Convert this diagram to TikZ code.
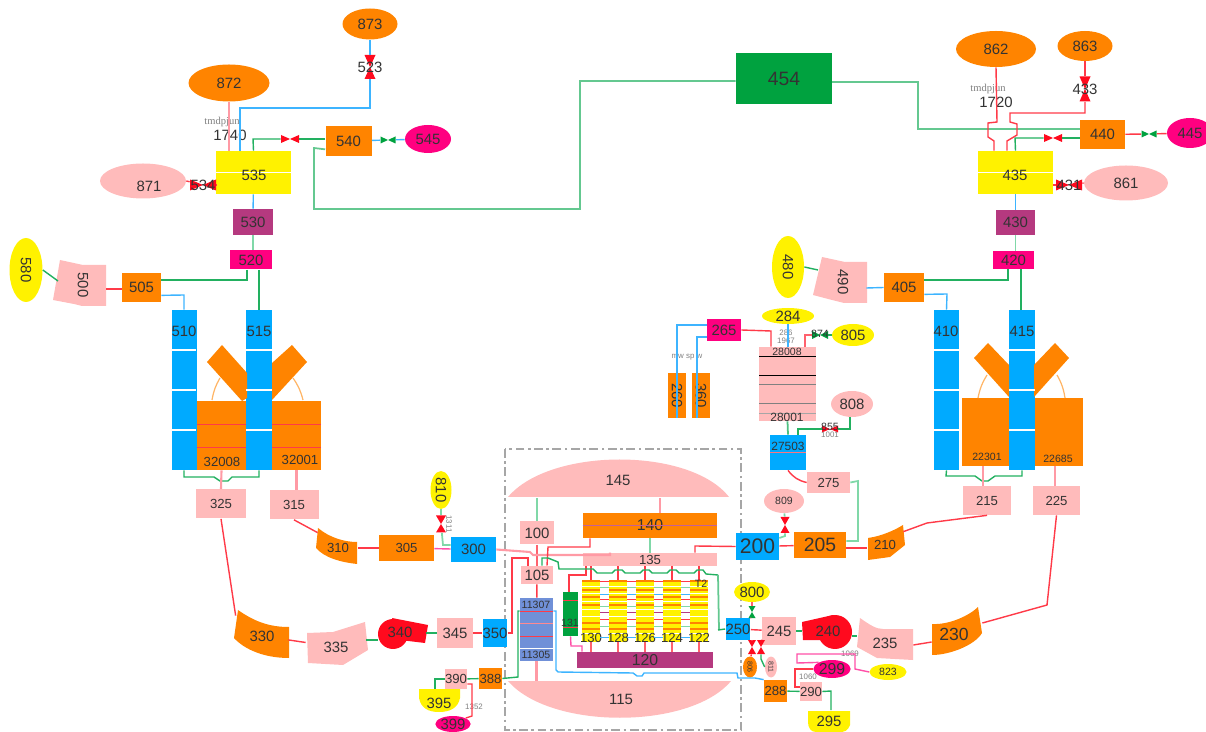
\documentclass[tikz,border=0pt]{standalone}
\usepackage{xcolor}
\usepackage{fontspec}
\setmainfont{Liberation Sans}
\newfontfamily\smallserif{Liberation Serif}
\usetikzlibrary{shapes.geometric,calc}

\definecolor{orng}{HTML}{FF8400}
\definecolor{pinkf}{HTML}{FFBBBB}
\definecolor{bluef}{HTML}{00AAFF}
\definecolor{purp}{HTML}{B5397F}
\definecolor{magf}{HTML}{FF0080}
\definecolor{grnf}{HTML}{00A23F}
\definecolor{redf}{HTML}{FF0A1E}
\definecolor{peri}{HTML}{7090D8}
\definecolor{txtc}{HTML}{333333}
\definecolor{rdl}{HTML}{FF3A48}
\definecolor{grl}{HTML}{22B060}
\definecolor{lgr}{HTML}{80D8A8}
\definecolor{bll}{HTML}{3DB4FF}
\definecolor{pkl}{HTML}{FF9AA5}
\definecolor{mgl}{HTML}{FF50A8}

\begin{document}
\begin{tikzpicture}[
x=0.02cm,y=-0.02cm,
every node/.style={font=\fontsize{8.5}{10}\selectfont,text=txtc},
box/.style 2 args={rectangle,inner sep=0pt,minimum width=#1*0.02cm,minimum height=#2*0.02cm},
oval/.style 2 args={ellipse,inner sep=0pt,minimum width=#1*0.02cm,minimum height=#2*0.02cm},
valveh/.style n args={3}{box={#2}{#3},path picture={\fill[#1] (path picture bounding box.north west) -- (path picture bounding box.south east) -- (path picture bounding box.north east) -- (path picture bounding box.south west) -- cycle;}},
valvev/.style n args={3}{box={#2}{#3},path picture={\fill[#1] (path picture bounding box.north west) -- (path picture bounding box.north east) -- (path picture bounding box.south west) -- (path picture bounding box.south east) -- cycle;}},
red pipe/.style={draw=rdl,line width=0.8pt},
green pipe/.style={draw=grl,line width=0.8pt},
pale pipe/.style={draw=lgr,line width=1pt},
blue pipe/.style={draw=bll,line width=0.8pt},
pink pipe/.style={draw=pkl,line width=1.2pt},
mag pipe/.style={draw=mgl,line width=0.8pt},
tag/.style={font=\fontsize{4.5}{5}\selectfont,text=gray},
midt/.style={font=\fontsize{7.5}{8}\selectfont},
lowt/.style={font=\fontsize{6}{7}\selectfont}
]
\clip (0,0) rectangle (1206,732);

% Vessel boundary
\draw[gray!70,line width=1.2pt,dash pattern=on 5pt off 2pt on 1.5pt off 2pt] (505,449) rectangle (741,730);

% Left train, top
\node[oval={55}{31},fill=orng] (n873) at (370,24) {873};
\node[valvev={redf}{11}{24},label={center:523}] (v523) at (370,67) {};
\node[oval={81}{37},fill=orng] (n872) at (229,83) {872};
\node[tag,font=\fontsize{6}{7}\smallserif\selectfont] (tag1) at (222,122) {tmdpjun};
\node (t1740) at (230,135) {1740};
\node[box={75}{43},fill=yellow] (n535) at (253.5,172.5) {};
\draw[white,line width=0.6pt] (n535.west) -- (n535.east);
\node (t535) at (254,175) {535};
\node[oval={86}{35},fill=pinkf] (n871) at (143,181) {};
\node (t871) at (149,186) {871};
\node[valveh={redf}{26}{11},label={center:534}] (v534) at (203,185) {};
\node[box={46}{30},fill=orng] (n540) at (348.5,141) {540};
\node[valveh={redf}{18}{8}] (v540) at (290,139) {};
\node[valveh={grnf}{15}{7}] (g540) at (388,140) {};
\node[oval={46}{28},fill=magf] (n545) at (428,139) {545};
\node[box={40}{26},fill=purp] (n530) at (253,222) {530};
\node[box={42}{19},fill=magf] (n520) at (251,260) {520};
\node[box={39}{29},fill=orng] (n505) at (141.5,287.5) {505};
\fill[pinkf] (60,260) -- (83,265) -- (106,265) -- (106,306) -- (82,306) -- (74,304) -- (53,300) -- cycle;
\node[box={46}{46},rotate=-90] (n500) at (83,285) {500};
\coordinate (c500) at (58,281);
\node[oval={64}{33},fill=yellow,rotate=-90] (n580) at (26,270) {580};

\draw[pink pipe] (n872.south) -- (n872.south |- n535.north);
\draw[blue pipe] (n873) -- (v523);
\draw[blue pipe] (v523.south) -- (370,108) -- (240,108) -- (n535.north -| 240,0);
\draw[green pipe] (n540.west |- v540) -- (v540);
\draw[green pipe] (v540.west) -- (253,139) -- (n535.north);
\draw[blue pipe] (n540) -- (g540);
\draw[blue pipe] (g540) -- (n545);
\draw[red pipe] (n871.east) -- (v534);
\draw[red pipe] (v534) -- (n535.west |- v534);
\draw[blue pipe] (n535) -- (n530);
\draw[pale pipe] (n530) -- (n530 |- n520.north);
\draw[green pipe] (n520.south -| 247,0) -- (247,280) -- (n505.east |- 0,280);
\draw[red pipe] (n505.west |- 0,289) -- (n500.north |- 0,289);
\draw[green pipe] (n580.north) -- (c500);

% Steam link to 454
\node[box={96}{51},fill=grnf,font=\fontsize{11}{12}\selectfont] (n454) at (784,78.5) {454};
\draw[pale pipe,draw=grl!70] ($(n540.south west)+(0,-7)$) -- (314,148) -- (314,209) -- (580,209) -- (580,81) -- (n454.west |- 0,81);

% Left train, columns
\node[box={25}{160},fill=bluef] (n510) at (184,390) {};
\node[box={26}{160},fill=bluef] (n515) at (259,390) {};
\node[box={49}{69},fill=orng] (n32008) at (221.5,435.5) {};
\node[box={49}{69},fill=orng] (n32001) at (296.5,435.5) {};
\fill[orng] (207,362) -- (222,345) -- (247,373) -- (247,398) -- (242,401) -- cycle;
\fill[orng] (272,400) -- (272,363) -- (292,345) -- (307,362) -- cycle;
\draw[orng!60,line width=0.7pt] (220,378) to[bend right=10] (212,400);
\draw[orng!60,line width=0.7pt] (293,378) to[bend left=10] (303,400);
\foreach \yy in {350,390,430} {
  \draw[white,line width=0.6pt] (172,\yy) -- (196,\yy);
  \draw[white,line width=0.6pt] (246,\yy) -- (272,\yy);
}
\foreach \yy in {424,447} {
  \draw[rdl,line width=0.5pt] (197,\yy) -- (246,\yy);
  \draw[rdl,line width=0.5pt] (272,\yy) -- (321,\yy);
}
\node (t510) at (184,331) {510};
\node (t515) at (259,331) {515};
\node[midt] (t32008) at (222,462) {32008};
\node[midt] (t32001) at (300,460) {32001};
\node[box={50}{29},fill=pinkf,midt] (n325) at (221,504) {325};
\node[box={49}{29},fill=pinkf,midt] (n315) at (294,505) {315};

\draw[blue pipe] ($(n505.south east)+(0,-7)$) -- (184,295) -- (n510.north);
\draw[green pipe] (n520.south -| 259,0) -- (n515.north);
\draw[green pipe] (n510.south) -- (184,477) -- (214,477) -- (220,481) -- (228,481) -- (232,477) -- (259,477) -- (n515.south);
\draw[pink pipe] (n32008.south) -- (n325.north);
\draw[pink pipe] (n32001.south) -- (n32001.south |- n315.north);

% Left train, lower loop
\fill[orng] (238,610) .. controls (255,622) and (270,627) .. (289,627) -- (289,658) .. controls (265,658) and (245,650) .. (234,638) -- cycle;
\node[box={52}{40}] (n330) at (262,636) {330};
\fill[pinkf] (307,633) -- (333,632) -- (365,622) -- (368,650) -- (343,665) -- (308,663) -- cycle;
\node[box={60}{40}] (n335) at (336,647) {335};
\fill[redf] (392,618) -- (428,625) -- (425,643) -- (400,640) -- cycle;
\node[circle,fill=redf,inner sep=0pt,minimum size=0.6cm] (n340) at (393,634) {};
\node (t340) at (400,632) {340};
\coordinate (c340) at (426,633);
\node[box={36}{30},fill=pinkf] (n345) at (455,633) {345};
\node[box={24}{28},fill=bluef] (n350) at (495,633) {350};
\fill[orng] (318,528) .. controls (330,538) and (345,542) .. (357,542) -- (357,564) .. controls (340,562) and (325,558) .. (316,548) -- cycle;
\node[box={40}{30},midt] (n310) at (338,548) {310};
\node[box={55}{26},fill=orng,midt] (n305) at (406.5,548) {305};
\node[box={45}{25},fill=bluef] (n300) at (473.5,549.5) {300};
\node[oval={38}{21},fill=yellow,rotate=-90] (n810) at (441,490) {810};
\node[valvev={redf}{10}{17}] (v311) at (441,524) {};
\node[tag,rotate=-90] (tag311) at (449,524) {1311};

\draw[red pipe] (n325.south) -- (n330.north west);
\draw[red pipe] (n315.south) -- (n310.north west);
\draw[red pipe] (n330) -- (n335);
\draw[green pipe] (n335.east |- 0,640) -- (n340.west |- 0,640);
\draw[green pipe] (c340) -- (n345.west);
\draw[red pipe] (n345) -- (n350);
\draw[red pipe] (n310.east) -- (n305);
\draw[mag pipe] (n305) -- (n300);
\draw[pale pipe] (n810) -- (v311);
\draw[pale pipe] (v311) -- (443,545) -- (n300.west |- 0,545);

% Vessel internals
\fill[pinkf] (508,497) .. controls (550,447) and (690,447) .. (729,497) -- cycle;
\node[box={220}{36}] (n145) at (618,480) {145};
\fill[pinkf] (508,681) .. controls (550,730) and (690,730) .. (731,681) -- cycle;
\node[box={222}{36}] (n115) at (621,699) {115};
\node[box={34}{23},fill=pinkf] (n100) at (537,533) {100};
\node[box={32}{18},fill=pinkf] (n105) at (537,575) {105};
\node[box={134}{25},fill=orng,font=\fontsize{9}{10}\selectfont] (n140) at (650,525.5) {140};
\draw[purp!80,line width=0.7pt] (n140.west) -- (n140.east);
\node[box={134}{13},fill=pinkf,midt] (n135) at (650,559.5) {135};
\node[box={136}{16},fill=purp,font=\fontsize{9}{10}\selectfont] (n120) at (645,660) {120};
\node[box={33}{63},fill=peri] (n11300) at (536.5,629.5) {};
\foreach \yy/\cc in {611/rdl,623/rdl!60,636/rdl,648/white} {
  \draw[\cc,line width=0.5pt] (520,\yy) -- (553,\yy);
}
\node[lowt] (t11307) at (536,605) {11307};
\node[lowt] (t11305) at (536,655) {11305};
\node[box={15}{44},fill=grnf] (n131) at (570.5,614) {};
\foreach \yy in {600,627} {
  \draw[rdl,line width=0.5pt] (563,\yy) -- (578,\yy);
}
\node[lowt] (t131) at (570,623) {131};

% Fuel rods
\foreach \nm/\xx in {130/591,128/618,126/645,124/672,122/699} {
  \node[box={18}{62},fill=yellow] (rod\nm) at (\xx,611) {};
  \foreach \yy in {581,590,597,605,623,629} {
    \draw[orng,line width=1pt] (\xx-9,\yy) -- (\xx+9,\yy);
  }
  \foreach \yy in {586,593,601,609,616,633} {
    \draw[white,line width=0.5pt] (\xx-9,\yy) -- (\xx+9,\yy);
  }
  \draw[red pipe] (rod\nm.north) -- (rod\nm.north |- n135.south);
  \draw[pink pipe,draw=rdl!80] (rod\nm.south) -- (rod\nm.south |- n120.north);
  \node[midt] (lab\nm) at (\xx,638) {\nm};
}
\node[lowt] (labT2) at (701,584) {T2};
\foreach \aa/\bb in {130/128,128/126,126/124,124/122} {
  \foreach \dd/\cc in {2/rdl,8/lgr,15/bll,20/rdl,27/lgr,33/purp,40/rdl,47/lgr,58/bll} {
    \draw[\cc,line width=0.7pt] ($(rod\aa.north east)+(0,\dd)$) -- ($(rod\bb.north west)+(0,\dd)$);
  }
}

\draw[pale pipe] (n145.south -| n100) -- (n100.north);
\draw[pink pipe] (n145.south -| 660,0) -- (n140.north -| 660,0);
\draw[pale pipe] (n140.south) -- (n135.north);
\draw[pink pipe,draw=rdl!80] (n100) -- (n105);
\draw[red pipe] (n105) -- (n11300);
\draw[pink pipe] (n11300.south) -- (n115.north -| n11300);
\draw[pink pipe] (n300.east) -- (530,552) -- (533,555) -- (610,555) -- (n135.north -| 610,0);
\draw[red pipe] (n140.south -| 590,0) -- (590,547) -- (548,547) -- (n105.north -| 547,0);
\draw[red pipe] (n350.east) -- (512,633) -- (512,558) -- (528,558) -- (n105.north -| 528,0);
\draw[red pipe] (n135.south -| 586,0) -- (586,575) -- (569,575) -- (n131.north -| 569,0);
\draw[mag pipe] (n131.south) -- (571,646) -- (582,646) -- (n120.north -| 582,0);
\draw[green pipe] (n105.north -| 542,0) -- (542,558) -- (548,558) -- (558,562) -- (559,569) -- (593,569) -- (597,573) -- (612,573) -- (615,570) -- (622,570) -- (625,573) -- (640,573) -- (643,570) -- (649,570) -- (652,573) -- (667,573) -- (670,570) -- (676,570) -- (679,573) -- (694,573) -- (697,570) -- (703,570) -- (706,574) -- (718,575);
\draw[pale pipe,draw=grl!70] (718,575) -- (719,630);

% Feed side
\node[box={23}{21},fill=orng,midt] (n388) at (490.5,678.5) {388};
\node[box={22}{20},fill=pinkf,midt] (n390) at (456,679) {390};
\fill[yellow] (419,689) -- (460,689) -- (460,698) .. controls (458,708) and (450,712) .. (439,712) .. controls (428,712) and (421,708) .. (419,698) -- cycle;
\node[box={41}{28}] (n395) at (439,703) {395};
\node[oval={35}{16},fill=magf] (n399) at (453,724) {399};
\node[tag] (tag1352) at (474,707) {1352};
\draw[green pipe] (n388) -- (n390);
\draw[green pipe] (n390.west) -- (435,679) -- (n395.north -| 435,0);
\draw[red pipe] (n390.east |- 0,684) -- (472,684) -- (472,716) -- (n399.north east);
\draw[green pipe] (n388.east) -- (518,677) -- (518,611) -- (n11300.west |- 0,611);

% Right of vessel, lower
\node[box={24}{22},fill=bluef] (n250) at (738,629) {250};
\node[oval={36}{20},fill=yellow] (n800) at (752,592) {800};
\node[valvev={grnf}{7}{12}] (v800) at (752,612) {};
\node[box={34}{28},fill=pinkf] (n245) at (779,631) {245};
\fill[redf] (802,622) -- (833,615) -- (835,640) -- (803,640) -- cycle;
\node[circle,fill=redf,inner sep=0pt,minimum size=0.68cm] (n240) at (835,632) {};
\node (t240) at (828,631) {240};
\coordinate (c240) at (802,631);
\fill[pinkf] (860,618) .. controls (870,625) and (876,629) .. (883,629) -- (913,629) -- (913,660) -- (877,658) -- (857,647) -- cycle;
\node[box={56}{36}] (n235) at (885,643) {235};
\fill[orng] (932,624) .. controls (950,625) and (970,615) .. (978,607) -- (982,633) .. controls (975,645) and (950,655) .. (932,655) -- cycle;
\node[box={50}{32},font=\fontsize{10}{12}\selectfont] (n230) at (954,634) {230};
\node[valvev={redf}{8}{14}] (v806) at (752,647) {};
\node[valvev={redf}{8}{14}] (v811) at (761,647) {};
\node[oval={21}{14},fill=orng,font=\fontsize{4}{5}\selectfont,rotate=-90] (n806) at (750,667) {806};
\node[oval={21}{12},fill=pinkf,font=\fontsize{4}{5}\selectfont,rotate=-90] (n811) at (771,667) {811};
\node[box={23}{22},fill=orng,midt] (n288) at (775.5,691) {288};
\node[box={22}{19},fill=pinkf,midt] (n290) at (811,691.5) {290};
\node[oval={35}{18},fill=magf,font=\fontsize{9}{10}\selectfont] (n299) at (832,669) {299};
\node[oval={37}{16},fill=yellow,lowt] (n823) at (888,672) {823};
\fill[yellow] (808,711) -- (850,711) -- (850,725) .. controls (848,731) and (844,732) .. (840,732) -- (816,732) .. controls (811,732) and (808,728) .. (808,722) -- cycle;
\node[box={42}{21}] (n295) at (829,721) {295};
\node[tag] (tag1069) at (850,654) {1069};
\node[tag] (tag1060) at (808,677) {1060};

\draw[blue pipe] (n11300.east |- 0,611) -- (556,611) -- (556,670) -- (558,672) -- (633,673) -- (637,676) -- (642,676) -- (644,673) -- (737,673) -- (738,678) -- (755,678) -- (n288.north west);
\draw[green pipe] (718,630) -- (n250.west);
\draw[pink pipe,draw=rdl!80,line width=0.8pt] (n800) -- (v800);
\draw[pink pipe,draw=rdl!80,line width=0.8pt] (v800) -- (n250.north east);
\draw[red pipe] (n250) -- (n245);
\draw[green pipe] (n245.east) -- (c240);
\draw[green pipe] (n240.east |- 0,636) -- (n235.west |- 0,636);
\draw[red pipe] (n235.east |- 0,645) -- ($(n230.west)+(3,8)$);
\draw[red pipe] (n250.south -| 752,0) -- (v806);
\draw[red pipe] (v806) -- (n806);
\draw[red pipe] (n245.west |- 0,640) -- (v811);
\draw[green pipe] (v811.south) -- (761,659) -- (n811.south);
\draw[green pipe] (n288) -- (n290);
\draw[green pipe] (n290.east) -- (831,691) -- (n295.north -| 831,0);
\draw[red pipe] (n299.west) -- (795,669) -- (795,687) -- (n290.west |- 0,687);
\draw[mag pipe] (n299.north west) -- (797,663) -- (797,654) -- (855,654) -- (855,669) -- (n823.west);

% Hot leg side
\node[box={43}{27},fill=bluef,font=\fontsize{12}{14}\selectfont] (n200) at (757.5,546.5) {200};
\node[box={52}{26},fill=orng,font=\fontsize{11}{13}\selectfont] (n205) at (820,545) {205};
\fill[orng] (868,538) .. controls (882,536) and (895,530) .. (903,525) -- (905,545) -- (890,557) -- (868,560) -- cycle;
\node[box={36}{26},midt] (n210) at (885,545) {210};
\node[oval={40}{24},fill=pinkf,lowt] (n809) at (784,501) {809};
\node[valvev={redf}{9}{16}] (v809) at (785,525) {};
\node[box={43}{21},fill=pinkf,midt] (n275) at (828.5,482.5) {275};
\node[box={36}{35},fill=bluef] (n27503) at (788,452.5) {};
\draw[rdl!70,line width=0.5pt] (n27503.west) -- (n27503.east);
\node[midt,font=\fontsize{6.8}{8}\selectfont] (t27503) at (788,446) {27503};
\node[box={57}{74},fill=pinkf] (n28) at (787.5,384) {};
\foreach \yy/\cc in {356/black,375/black,384/gray,403/gray,413/gray!70} {
  \draw[\cc,line width=0.5pt] (759,\yy) -- (816,\yy);
}
\node[lowt] (t28008) at (787,352) {28008};
\node[midt,font=\fontsize{6.8}{8}\selectfont] (t28001) at (787,417) {28001};
\node[oval={42}{26},fill=pinkf] (n808) at (852,404) {808};
\node[valveh={redf}{16}{7}] (v855) at (830,429) {};
\node[lowt] (t855) at (830,427) {855};
\node[tag] (tag1001) at (830,435) {1001};
\node[oval={42}{22},fill=yellow] (n805) at (853,335) {805};
\node[valveh={grnf}{16}{8}] (v874) at (820,335) {};
\node[lowt] (t874) at (820,334) {874};
\node[oval={52}{16},fill=yellow] (n284) at (788,316) {284};
\node[box={34}{22},fill=magf] (n265) at (724,330) {265};
\node[box={45}{18},fill=orng,rotate=-90] (n260) at (677,395.5) {260};
\node[box={45}{18},fill=orng,rotate=-90] (n360) at (701,395.5) {360};
\node[tag] (tag286) at (786,333) {286};
\node[tag] (tag1967) at (786,341) {1967};
\node[tag] (tagsp) at (687,357) {mw sp w};

\draw[red pipe] (n200.west) -- (695,546) -- (n135.north -| 695,0);
\draw[red pipe] (n200) -- (n205);
\draw[red pipe] (n205.east |- 0,548) -- (n210.west |- 0,548);
\draw[pale pipe] (n205.east |- 0,541) -- (858,541) -- (858,481) -- (n275.east);
\draw[pale pipe] (n809) -- (v809);
\draw[pale pipe] (v809.south) -- (785,536) -- (n200.east |- 0,538);
\draw[red pipe] (n27503.south) to[bend right=20] (n275.west);
\draw[pale pipe,draw=grl!80] (n28.south) -- (n27503.north);
\draw[green pipe] (n808.south -| 850,0) -- (850,429) -- (v855);
\draw[green pipe] (v855) -- (798,429) -- (n27503.north -| 798,0);
\draw[pink pipe,draw=rdl!80,line width=0.8pt] (v874) -- (805,335) -- (n28.north -| 805,0);
\draw[green pipe] (n805) -- (v874);
\draw[blue pipe,line width=1.2pt] (n284.south) -- (n284.south |- n28.north);
\draw[red pipe] (n265.east) -- (771,331) -- (n28.north -| 771,0);
\draw[blue pipe] ($(n265.west)+(0,-5)$) -- (677,325) -- (n260.east);
\draw[blue pipe] ($(n265.west)+(0,7)$) -- (697,337) -- (n360.east -| 697,0);

% Right train, top
\node[oval={80}{36},fill=orng] (n862) at (996,49) {862};
\node[oval={55}{30},fill=orng] (n863) at (1085,46) {863};
\node[valvev={redf}{11}{25},label={center:433}] (v433) at (1085,89) {};
\node[tag,font=\fontsize{6}{7}\smallserif\selectfont] (tag2) at (988,89) {tmdpjun};
\node (t1720) at (996,102) {1720};
\node[box={75}{43},fill=yellow] (n435) at (1015.5,172.5) {};
\draw[white,line width=0.6pt] (n435.west) -- (n435.east);
\node (t435) at (1015,175) {435};
\node[oval={84}{35},fill=pinkf] (n861) at (1126,183) {861};
\node[valveh={redf}{26}{11},label={center:431}] (v431) at (1069,185) {};
\node[box={45}{29},fill=orng] (n440) at (1102.5,134.5) {440};
\node[valveh={redf}{18}{8}] (v440) at (1053,138) {};
\node[valveh={grnf}{15}{7}] (g440) at (1149,134) {};
\node[oval={46}{30},fill=magf] (n445) at (1190,133) {445};
\node[box={39}{25},fill=purp] (n430) at (1015.5,222.5) {430};
\node[box={41}{18},fill=magf] (n420) at (1013.5,260) {420};
\node[box={40}{29},fill=orng] (n405) at (904,287.5) {405};
\fill[pinkf] (822,257) -- (845,262) -- (867,262) -- (867,303) -- (844,303) -- (832,300) -- (813,295) -- cycle;
\node[box={46}{46},rotate=-90] (n490) at (843,282) {490};
\coordinate (c490) at (818,270);
\node[oval={62}{32},fill=yellow,rotate=-90] (n480) at (788,267) {480};

\draw[pale pipe,draw=grl!70] (n454.east |- 0,82) -- (918,82) -- (918,129) -- (n440.west |- 0,129);
\draw[red pipe] (n862.south) -- (997,122) -- (988,123) -- (988,137) -- (994,141) -- (n435.north -| 994,0);
\draw[red pipe] (n863) -- (v433);
\draw[red pipe] (v433.south) -- (1085,113) -- (1010,113) -- (1010,122) -- (1017,124) -- (1017,135) -- (1007,141) -- (n435.north -| 1007,0);
\draw[green pipe] (n440.west |- v440) -- (v440);
\draw[green pipe] (v440.west) -- (1015,138) -- (n435.north);
\draw[red pipe] (n440) -- (g440);
\draw[red pipe] (g440) -- (n445);
\draw[red pipe] (n861.west) -- (v431);
\draw[red pipe] (v431) -- (n435.east |- v431);
\draw[blue pipe] (n435) -- (n430);
\draw[pale pipe] (n430) -- (n430 |- n420.north);
\draw[green pipe] (n420.south -| 1008,0) -- (1008,280) -- (n405.east |- 0,280);
\draw[blue pipe] (n405.west) -- (n490.north |- 0,288);
\draw[green pipe] (n480.north) -- (c490);

% Right train, columns
\node[box={25}{160},fill=bluef] (n410) at (946.5,390) {};
\node[box={26}{160},fill=bluef] (n415) at (1022,390) {};
\node[box={47}{68},fill=orng] (n22301) at (985.5,432) {};
\node[box={48}{68},fill=orng] (n22685) at (1059,432) {};
\fill[orng] (974,358) -- (988,343) -- (1009,365) -- (1009,397) -- cycle;
\fill[orng] (1034,397) -- (1034,365) -- (1055,343) -- (1069,358) -- cycle;
\draw[orng!60,line width=0.7pt] (987,375) to[bend right=10] (978,398);
\draw[orng!60,line width=0.7pt] (1057,375) to[bend left=10] (1065,398);
\foreach \yy in {350,390,430} {
  \draw[white,line width=0.6pt] (934,\yy) -- (959,\yy);
  \draw[white,line width=0.6pt] (1009,\yy) -- (1035,\yy);
}
\node (t410) at (946,331) {410};
\node (t415) at (1022,331) {415};
\node[lowt] (t22301) at (987,457) {22301};
\node[lowt] (t22685) at (1058,459) {22685};
\node[box={48}{29},fill=pinkf,midt] (n215) at (987,500.5) {215};
\node[box={47}{29},fill=pinkf,midt] (n225) at (1056.5,500.5) {225};

\draw[blue pipe] ($(n405.south east)+(0,-8)$) -- (947,294) -- (n410.north);
\draw[green pipe] (n420.south -| 1021,0) -- (n415.north -| 1021,0);
\draw[green pipe] (n410.south) -- (946,476) -- (975,476) -- (982,481) -- (988,481) -- (995,476) -- (1022,476) -- (n415.south);
\draw[pink pipe] (n22301.south -| 983,0) -- (n215.north -| 983,0);
\draw[pink pipe] (n22685.south -| 1055,0) -- (n225.north -| 1055,0);
\draw[red pipe] (n215.south) -- (927,523) -- (n210.north east);
\draw[red pipe] (n225.south) -- (1047,605) -- ($(n230.east)+(3,-11)$);
\end{tikzpicture}
\end{document}
